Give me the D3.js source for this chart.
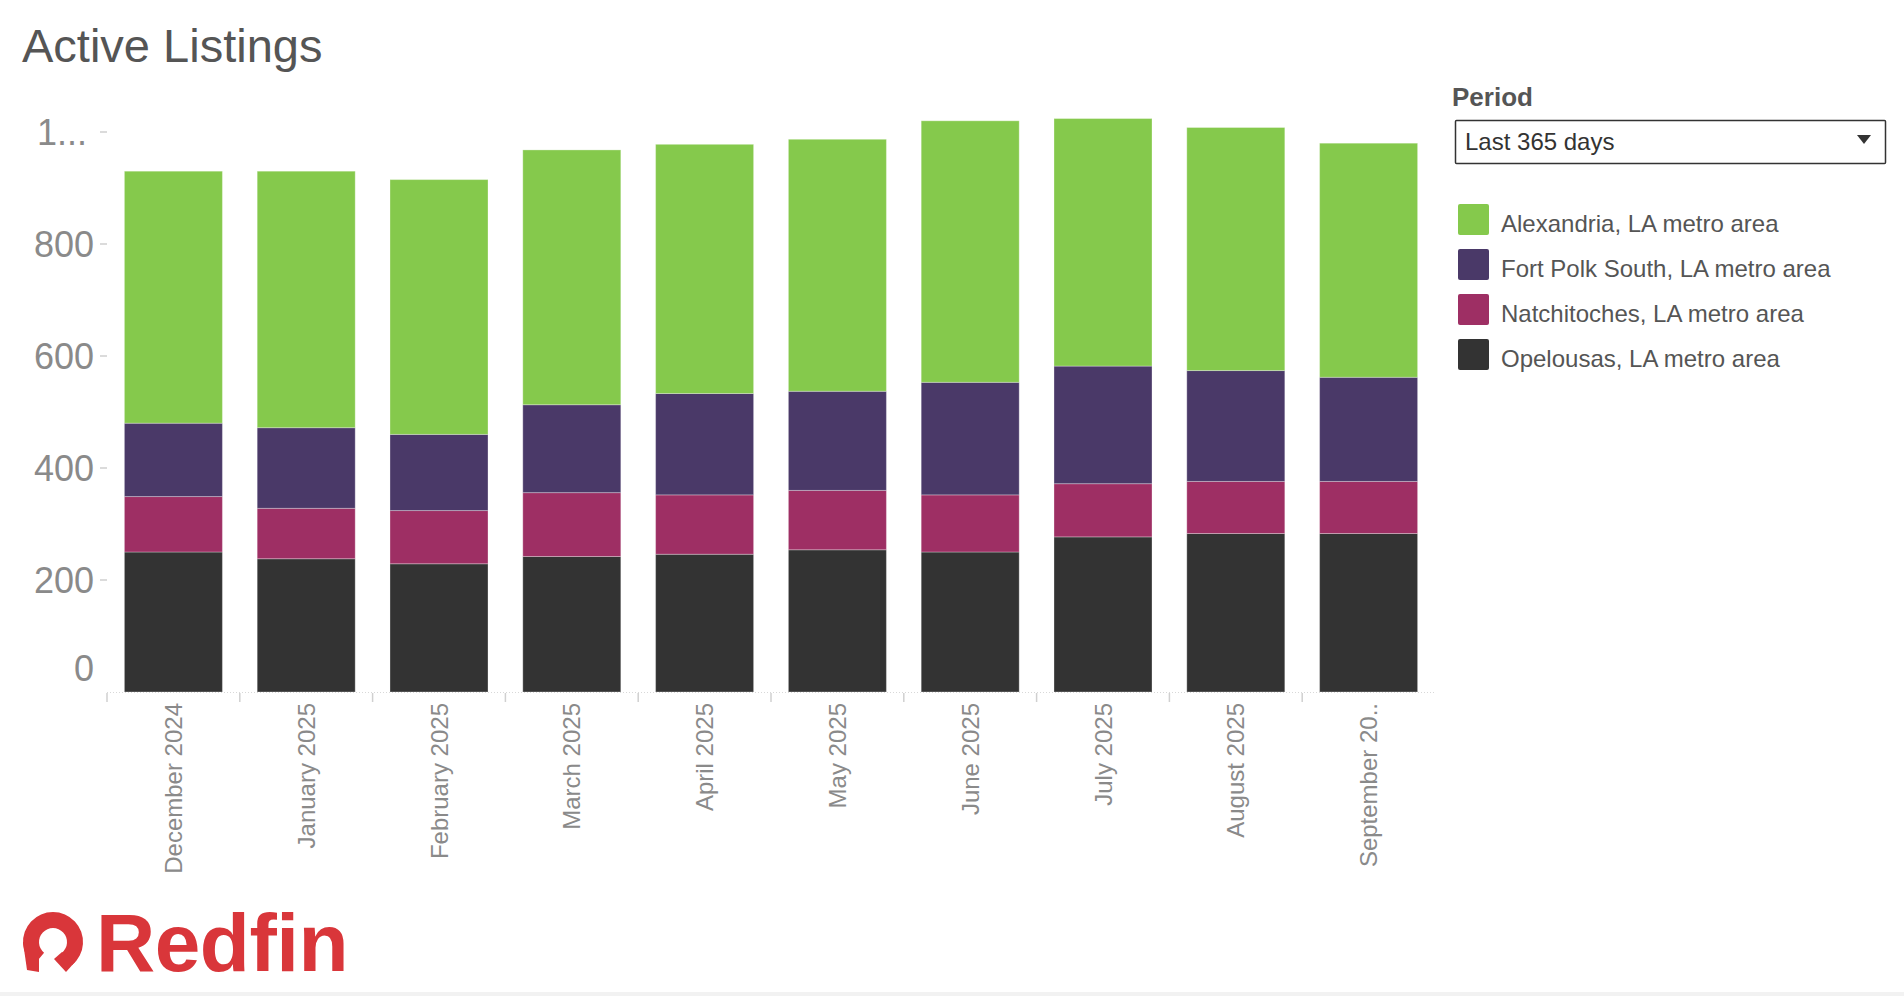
<!DOCTYPE html>
<html>
<head>
<meta charset="utf-8">
<script src="https://cdn.jsdelivr.net/npm/d3@7"></script>
<style>
  html, body { margin: 0; padding: 0; background: #fff; }
  svg { display: block; font-family: Arial, "Liberation Sans", sans-serif; }
</style>
</head>
<body>
<svg id="chart" width="1904" height="996"></svg>
<script>
// ---- Data ----
const months = ["December 2024", "January 2025", "February 2025", "March 2025", "April 2025",
                "May 2025", "June 2025", "July 2025", "August 2025", "September 2025"];
const monthLabels = ["December 2024", "January 2025", "February 2025", "March 2025", "April 2025",
                     "May 2025", "June 2025", "July 2025", "August 2025", "September 20.."];
const seriesNames = ["Opelousas, LA metro area", "Natchitoches, LA metro area",
                     "Fort Polk South, LA metro area", "Alexandria, LA metro area"];
const opelousas    = [250, 238, 229, 242, 246, 254, 250, 277, 283, 283];
const natchitoches = [ 99,  90,  95, 114, 106, 106, 102,  95,  93,  93];
const fortPolk     = [131, 144, 136, 157, 181, 177, 201, 210, 198, 186];
const alexandria   = [450, 458, 455, 455, 445, 450, 467, 442, 434, 418];
const seriesColors = ["#333333", "#9e2f64", "#4a3968", "#85c94c"];
const legendOrder = [3, 2, 1, 0];
const yTickValues = [0, 200, 400, 600, 800, 1000];
const yTickLabels = ["0", "200", "400", "600", "800", "1..."];

// ---- Build table ----
const seriesValues = [opelousas, natchitoches, fortPolk, alexandria];
const table = months.map((m, i) => {
  const row = { month: m };
  seriesNames.forEach((s, k) => row[s] = seriesValues[k][i]);
  return row;
});
const stacked = d3.stack().keys(seriesNames)(table);

const svg = d3.select("#chart");

// Title
svg.append("text").attr("x", 22).attr("y", 62)
  .attr("font-size", 47).attr("fill", "#555").text("Active Listings");

// Scales
const x = d3.scaleBand().domain(months).range([107, 1435]).paddingInner(0.262).paddingOuter(0.131);
const y = d3.scaleLinear().domain([0, 1000]).range([692, 132]);

// Y axis
const yAxis = svg.append("g");
yTickValues.forEach((v, i) => {
  const yy = y(v);
  if (v !== 0) {
    yAxis.append("line").attr("x1", 100).attr("x2", 107).attr("y1", yy).attr("y2", yy)
      .attr("stroke", "#cfcfcf").attr("stroke-width", 1.5);
  }
  yAxis.append("text").attr("x", v === 1000 ? 87 : 94).attr("y", v === 0 ? yy - 24 : yy)
    .attr("text-anchor", "end").attr("dominant-baseline", "central")
    .attr("font-size", 36).attr("fill", "#8a8a8a").text(yTickLabels[i]);
});

// Bars
svg.append("g").selectAll("g").data(stacked).join("g")
  .attr("fill", (d, i) => seriesColors[i])
  .selectAll("rect").data(d => d).join("rect")
  .attr("x", d => x(d.data.month))
  .attr("width", x.bandwidth())
  .attr("y", d => y(d[1]))
  .attr("height", d => y(d[0]) - y(d[1]))
  .attr("stroke", "rgba(255,255,255,0.3)").attr("stroke-width", 1);

// X axis line (dotted) and separators
const xg = svg.append("g");
xg.append("line").attr("x1", 107).attr("x2", 1435).attr("y1", 692.5).attr("y2", 692.5)
  .attr("stroke", "#d8d8d8").attr("stroke-width", 1).attr("stroke-dasharray", "1,2");
const step = x.step();
months.forEach((m, i) => {
  const sx = x(m) - (step - x.bandwidth()) / 2;
  xg.append("line").attr("x1", sx).attr("x2", sx).attr("y1", 693).attr("y2", 702)
    .attr("stroke", "#d0d0d0").attr("stroke-width", 1.5);
});
months.forEach((m, i) => {
  xg.append("text")
    .attr("transform", `translate(${x(m) + x.bandwidth() / 2},703) rotate(-90)`)
    .attr("text-anchor", "end").attr("dominant-baseline", "central")
    .attr("font-size", 24).attr("fill", "#8a8a8a").text(monthLabels[i]);
});

// Period filter
svg.append("text").attr("x", 1452).attr("y", 106).attr("font-size", 26)
  .attr("font-weight", "bold").attr("fill", "#555").text("Period");
svg.append("rect").attr("x", 1455.5).attr("y", 120.5).attr("width", 430).attr("height", 43)
  .attr("fill", "#fff").attr("stroke", "#333").attr("stroke-width", 1.5).attr("rx", 1);
svg.append("text").attr("x", 1465).attr("y", 150).attr("font-size", 24)
  .attr("fill", "#333").text("Last 365 days");
svg.append("path").attr("d", "M1857,135 L1871,135 L1864,144 Z").attr("fill", "#333");

// Legend
const leg = svg.append("g");
legendOrder.forEach((k, j) => {
  const cy = 220 + j * 45;
  leg.append("rect").attr("x", 1458).attr("y", cy - 16).attr("width", 31).attr("height", 31)
    .attr("rx", 2).attr("fill", seriesColors[k]);
  leg.append("text").attr("x", 1501).attr("y", cy + 3).attr("dominant-baseline", "central")
    .attr("font-size", 24).attr("fill", "#555").text(seriesNames[k]);
});

// Redfin logo
const logo = svg.append("g").attr("fill", "#d9363a");
const cx = 53, cyL = 942, R = 30, r = 14;
const arc = d3.arc().innerRadius(r).outerRadius(R)
  .startAngle(-Math.PI * 0.78).endAngle(Math.PI * 0.78);
logo.append("path").attr("transform", `translate(${cx},${cyL})`).attr("d", arc());
logo.append("path").attr("d",
  `M${cx - R},${cyL} L${cx - r},${cyL} L${cx - r},${cyL + R} L${cx - R + 4},${cyL + R - 2} Z`);
logo.append("path").attr("d",
  `M${cx + 9},${cyL + 10} L${cx + 22},${cyL + 20} L${cx + 13},${cyL + 30} L${cx + 1},${cyL + 17} Z`);
logo.append("text").attr("x", 96).attr("y", 971).attr("font-size", 82)
  .attr("font-weight", "bold").attr("letter-spacing", -0.5).text("Redfin");

// bottom strip
svg.append("rect").attr("x", 0).attr("y", 992).attr("width", 1904).attr("height", 4).attr("fill", "#f2f2f2");
</script>
</body>
</html>
